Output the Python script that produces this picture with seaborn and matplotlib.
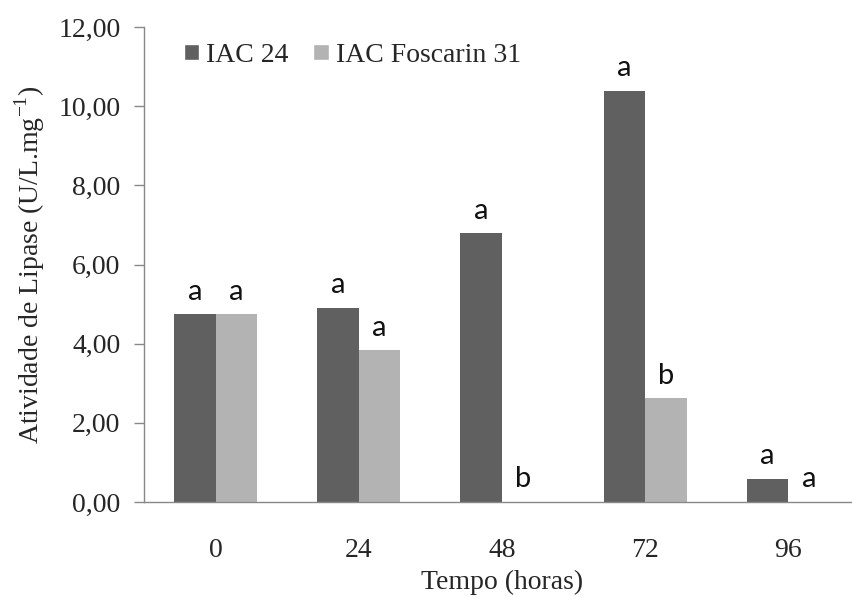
import matplotlib
matplotlib.use("Agg")
import matplotlib.pyplot as plt
import pandas as pd
import seaborn as sns
from matplotlib.patches import Patch
from matplotlib.ticker import FuncFormatter

tempos = ["0", "24", "48", "72", "96"]
cultivares = ["IAC 24", "IAC Foscarin 31"]
iac24 = [4.74, 4.90, 6.79, 10.38, 0.58]
foscarin = [4.74, 3.83, 0.0, 2.62, 0.0]
letras_iac24 = ["a", "a", "a", "a", "a"]
letras_foscarin = ["a", "a", "b", "b", "a"]

cores = {"IAC 24": "#606060", "IAC Foscarin 31": "#b3b3b3"}

df = pd.DataFrame({
    "tempo": tempos * 2,
    "cultivar": [cultivares[0]] * 5 + [cultivares[1]] * 5,
    "atividade": iac24 + foscarin,
    "letra": letras_iac24 + letras_foscarin,
})

sns.set_style("white")
plt.rcParams["font.family"] = ["Liberation Serif", "DejaVu Serif"]
plt.rcParams["mathtext.fontset"] = "custom"
plt.rcParams["mathtext.rm"] = "Liberation Serif"

fig = plt.figure(figsize=(8.53, 5.97), dpi=100)
ax = fig.add_axes([144 / 853, 95 / 597, 716 / 853, 475 / 597])

sns.barplot(data=df, x="tempo", y="atividade", hue="cultivar", order=tempos,
            hue_order=cultivares, palette=cores, width=0.58, gap=0,
            saturation=1, legend=False, ax=ax, linewidth=0)

# letras acima das barras
for cont, cult in zip(ax.containers, cultivares):
    letras = df[df["cultivar"] == cult]["letra"].tolist()
    for barra, letra in zip(cont, letras):
        x = barra.get_x() + barra.get_width() / 2
        ax.annotate(letra, (x, barra.get_height()), xytext=(0, 7),
                    textcoords="offset points", ha="center", va="bottom",
                    fontsize=21, family=["Lato", "DejaVu Sans"], color="#111111")

ax.set_xlim(-0.5, 4.5)
ax.set_ylim(0, 12)
ax.set_yticks(range(0, 13, 2))
ax.yaxis.set_major_formatter(FuncFormatter(lambda v, p: f"{v:.2f}".replace(".", ",")))
ax.set_xticks([i - 0.5 for i in range(6)], minor=True)
ax.tick_params(axis="x", which="major", length=0, pad=26, labelsize=20)
ax.tick_params(axis="x", which="minor", length=8, width=1, color="#888888", direction="out")
ax.tick_params(axis="y", length=7, width=1, color="#888888", direction="out",
               pad=10, labelsize=20, left=True)

for s in ["top", "right"]:
    ax.spines[s].set_visible(False)
for s in ["left", "bottom"]:
    ax.spines[s].set_color("#888888")
    ax.spines[s].set_linewidth(1)

ax.set_xlabel("Tempo (horas)", fontsize=20, labelpad=5)
ax.set_ylabel("Atividade de Lipase (U/L.mg$^{\\mathregular{-1}}$)", fontsize=20, labelpad=8)

handles = [Patch(facecolor=cores[c], label=c) for c in cultivares]
ax.legend(handles=handles, loc="upper left", bbox_to_anchor=(0.04, 0.99), ncol=2,
          frameon=False, fontsize=20, handlelength=0.55, handleheight=0.55,
          handletextpad=0.25, columnspacing=0.9, borderaxespad=0)

fig.savefig("out.png", dpi=100)
